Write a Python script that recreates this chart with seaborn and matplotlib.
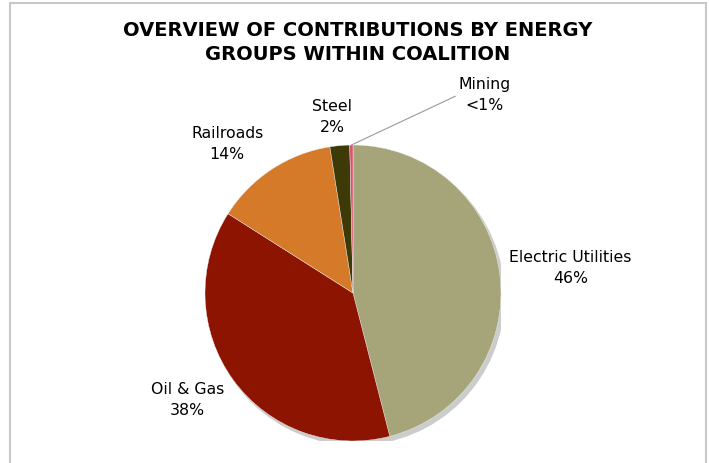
import matplotlib
matplotlib.use('Agg')

import matplotlib.pyplot as plt
from matplotlib.patches import Circle, Rectangle
import seaborn as sns
import numpy as np

sns.set_style("white")
plt.rcParams['font.family'] = ['DejaVu Sans']
plt.rcParams['text.color'] = 'black'

# data (share of contributions, %)
groups = ["Electric Utilities", "Oil & Gas", "Railroads", "Steel", "Mining"]
shares = [46.0, 38.0, 13.5, 2.15, 0.35]
share_labels = ["46%", "38%", "14%", "2%", "<1%"]
colors = ["#A6A57A", "#8C1400", "#D47A28", "#3D3A08", "#D9536F"]

# where each label sits, in pie-radius units
label_pos = [(1.47, 0.17), (-1.12, -0.72), (-0.85, 1.01), (-0.14, 1.19), (0.89, 1.34)]

fig = plt.figure(figsize=(7.1, 4.63), dpi=100)

# light gray frame around the chart area
fig.patches.append(Rectangle((10 / 710, -0.05), 696 / 710, 460 / 463 + 0.05,
                             transform=fig.transFigure, fill=False,
                             edgecolor="#c8c8c8", linewidth=1.5))

# pie centre at (353, 293) px, radius 148 px
ax = fig.add_axes([205 / 710, 22 / 463, 296 / 710, 296 / 463])

# soft shadow behind the pie
ax.add_patch(Circle((0.02, -0.025), 1.0, color="#cccccc", zorder=0))

wedges, _ = ax.pie(shares, colors=colors, startangle=90, counterclock=False,
                   wedgeprops=dict(linewidth=0.3, edgecolor="#eeeeee"))
for w in wedges:
    w.set_zorder(2)

for i, (name, pct) in enumerate(zip(groups, share_labels)):
    txt = f"{name}\n{pct}"
    x, y = label_pos[i]
    if name == "Mining":
        w = wedges[i]
        mid = np.deg2rad((w.theta1 + w.theta2) / 2)
        ax.annotate(txt, xy=(np.cos(mid), np.sin(mid)), xytext=(x, y),
                    ha="center", va="center", fontsize=11.3, linespacing=1.5,
                    arrowprops=dict(arrowstyle="-", color="#999999", lw=0.8,
                                    relpos=(0, 0.5), shrinkA=0, shrinkB=0))
    else:
        ax.text(x, y, txt, ha="center", va="center", fontsize=11.3, linespacing=1.5)

ax.set_xlim(-1, 1)
ax.set_ylim(-1, 1)
ax.set_aspect("equal")
ax.axis("off")

fig.text(358 / 710, 1 - 42.5 / 463,
         "OVERVIEW OF CONTRIBUTIONS BY ENERGY\nGROUPS WITHIN COALITION",
         ha="center", va="center", fontsize=14, fontweight="bold", linespacing=1.4)

fig.savefig("out.png", dpi=100)
plt.close(fig)
